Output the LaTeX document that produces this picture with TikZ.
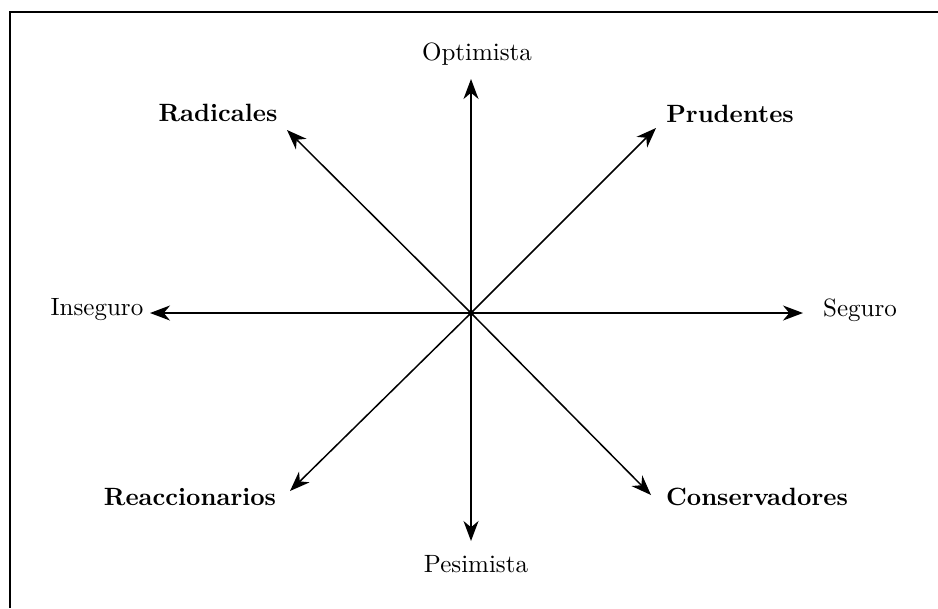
\documentclass[tikz,border=0pt]{standalone}
\usepackage{tikz}
\usetikzlibrary{arrows.meta}

\begin{document}
\begin{tikzpicture}[
  x=0.4pt, y=-0.4pt,
  axis/.style={line width=0.6pt, -{Stealth[length=8pt, width=6pt, inset=2.5pt]}},
  plbl/.style={font=\normalsize, inner sep=2pt},
  qlbl/.style={font=\normalsize\bfseries, inner sep=2pt},
  frame/.style={line width=0.6pt},
]
  \useasboundingbox (0,0) rectangle (938,608);

  % Frame (only top and left edges show)
  \draw[frame] (10,608) -- (10,12) -- (938,12);

  % Centre and arrow ends
  \coordinate (o)     at (471, 313);
  \coordinate (t_opt) at (471, 79);
  \coordinate (t_pes) at (471, 541);
  \coordinate (t_ins) at (150, 313);
  \coordinate (t_seg) at (803, 313);
  \coordinate (t_rad) at (287, 130);
  \coordinate (t_pru) at (656, 128);
  \coordinate (t_rea) at (290, 491);
  \coordinate (t_con) at (651, 495);

  % Axis labels
  \node[plbl] (l_opt) at (477, 54)  {Optimista};
  \node[plbl] (l_pes) at (476, 564) {Pesimista};
  \node[plbl] (l_ins) at (97, 310)  {Inseguro};
  \node[plbl] (l_seg) at (860, 310) {Seguro};

  % Quadrant labels
  \node[qlbl] (l_rad) at (218, 113) {Radicales};
  \node[qlbl] (l_pru) at (730, 114) {Prudentes};
  \node[qlbl] (l_rea) at (190, 497) {Reaccionarios};
  \node[qlbl] (l_con) at (757, 497) {Conservadores};

  % Arrows out of the centre
  \foreach \t in {t_opt, t_pes, t_ins, t_seg, t_rad, t_pru, t_rea, t_con} {
    \draw[axis] (o) -- (\t);
  }
  \fill (o) circle (3);
\end{tikzpicture}
\end{document}
